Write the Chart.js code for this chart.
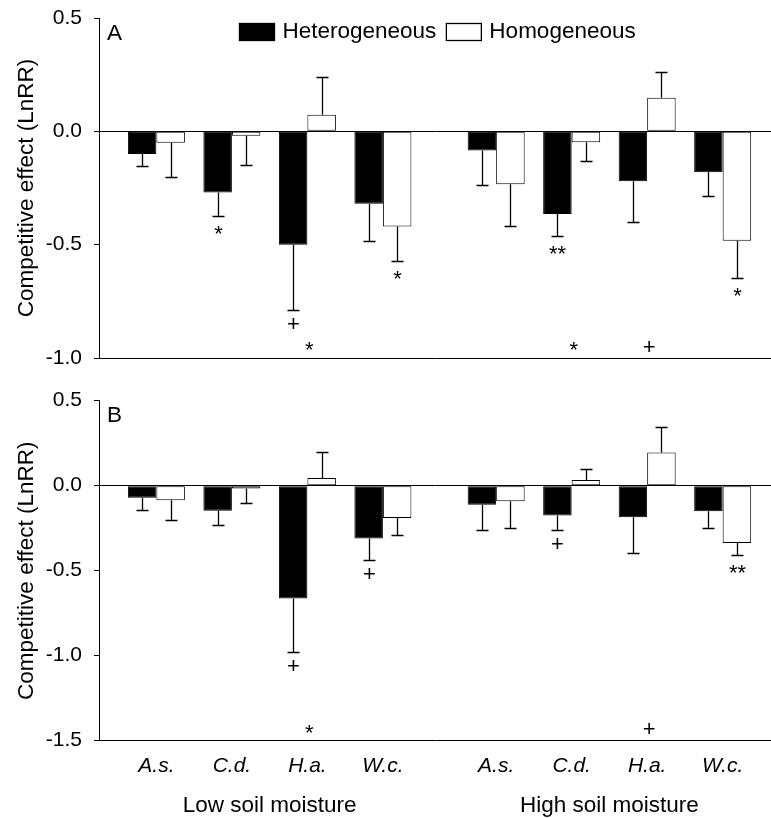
<!DOCTYPE html>
<html>
<head>
<meta charset="utf-8">
<script src="https://cdn.jsdelivr.net/npm/chart.js@4.4.0/dist/chart.umd.min.js"></script>
<style>
  body { margin: 0; background: #fff; }
  canvas { display: block; }
</style>
</head>
<body>
<canvas id="chartA" width="771" height="380"></canvas>
<canvas id="chartB" width="771" height="438"></canvas>
<script>
const species = ['A.s.', 'C.d.', 'H.a.', 'W.c.'];
const moisture = ['Low soil moisture', 'High soil moisture'];
const seriesNames = ['Heterogeneous', 'Homogeneous'];

// panel A: 4 species under low moisture, then 4 under high moisture
const hetA = [-0.10, -0.27, -0.50, -0.32, -0.085, -0.365, -0.22, -0.18];
const hetErrA = [0.053, 0.105, 0.29, 0.163, 0.15, 0.096, 0.18, 0.106];
const homA = [-0.05, -0.02, 0.073, -0.42, -0.233, -0.048, 0.148, -0.483];
const homErrA = [0.15, 0.13, 0.167, 0.151, 0.184, 0.083, 0.113, 0.165];
const hetMarksA = ['', '*', '+', '', '', '**', '', ''];
const homMarksA = ['', '', '', '*', '', '', '', '*'];
const groupMarksA = ['', '', '*', '', '', '*', '+', ''];

// panel B
const hetB = [-0.071, -0.147, -0.663, -0.31, -0.112, -0.176, -0.186, -0.151];
const hetErrB = [0.072, 0.082, 0.315, 0.127, 0.147, 0.083, 0.208, 0.098];
const homB = [-0.086, -0.016, 0.045, -0.19, -0.092, 0.033, 0.196, -0.337];
const homErrB = [0.118, 0.084, 0.151, 0.102, 0.157, 0.065, 0.151, 0.069];
const hetMarksB = ['', '', '+', '+', '', '+', '', ''];
const homMarksB = ['', '', '', '', '', '', '', '**'];
const groupMarksB = ['', '', '*', '', '', '', '+', ''];

const FONT = '"Liberation Sans", Arial, sans-serif';
Chart.defaults.font.family = FONT;
Chart.defaults.color = '#000';

// low moisture groups at 1..4, high moisture groups after a wider gap
function xPos(i) { return i < 4 ? i + 1 : i + 1.5; }

function drawCentered(ctx, text, x, cy) {
  const m = ctx.measureText(text);
  ctx.fillText(text, x, cy + (m.actualBoundingBoxAscent - m.actualBoundingBoxDescent) / 2);
}

const extras = {
  id: 'extras',
  afterDatasetsDraw(chart, args, opts) {
    const ctx = chart.ctx;
    const y = chart.scales.y, x = chart.scales.x;
    const area = chart.chartArea;
    ctx.save();
    ctx.strokeStyle = '#000';
    ctx.fillStyle = '#000';
    ctx.lineWidth = 1.3;
    ctx.textAlign = 'center';
    ctx.font = '22px ' + FONT;

    // error bars pointing away from zero, with marks below
    opts.errors.forEach((errs, d) => {
      const meta = chart.getDatasetMeta(d);
      meta.data.forEach((bar, i) => {
        const v = chart.data.datasets[d].data[i].y;
        const end = v < 0 ? v - errs[i] : v + errs[i];
        const px = Math.round(bar.x) + 0.5;
        const y0 = y.getPixelForValue(v);
        const y1 = Math.round(y.getPixelForValue(end)) + 0.5;
        ctx.beginPath();
        ctx.moveTo(px, y0);
        ctx.lineTo(px, y1);
        ctx.moveTo(px - 6, y1);
        ctx.lineTo(px + 6, y1);
        ctx.stroke();
        const mark = opts.marks[d][i];
        if (mark) drawCentered(ctx, mark, px, y1 + (v < 0 ? 13 : -13));
      });
    });

    opts.groupMarks.forEach((m, i) => {
      if (m) drawCentered(ctx, m, x.getPixelForValue(xPos(i)) + 2, area.bottom - 12);
    });

    ctx.font = '22.5px ' + FONT;
    ctx.textAlign = 'left';
    drawCentered(ctx, opts.letter, area.left + 8, area.top + 14);

    if (opts.legend) {
      let lx = 239.5;
      chart.data.datasets.forEach(ds => {
        ctx.fillStyle = ds.backgroundColor;
        ctx.fillRect(lx, 23.5, 35, 17);
        ctx.strokeRect(lx, 23.5, 35, 17);
        ctx.fillStyle = '#000';
        ctx.textBaseline = 'middle';
        ctx.fillText(ds.label, lx + 43, 32);
        lx += 43 + ctx.measureText(ds.label).width + 10;
      });
      ctx.textBaseline = 'alphabetic';
    }

    if (opts.groups) {
      ctx.textAlign = 'center';
      ctx.textBaseline = 'alphabetic';
      moisture.forEach((label, g) => {
        const mid = (xPos(g * 4) + xPos(g * 4 + 3)) / 2;
        ctx.fillText(label, x.getPixelForValue(mid), area.bottom + 71);
      });
    }
    ctx.restore();
  }
};

function makeChart(id, het, hom, cfg) {
  return new Chart(document.getElementById(id), {
    type: 'bar',
    data: {
      datasets: [
        {
          label: seriesNames[0],
          data: het.map((v, i) => ({ x: xPos(i), y: v })),
          backgroundColor: '#000',
          borderColor: '#000',
          borderWidth: 1,
          borderSkipped: false
        },
        {
          label: seriesNames[1],
          data: hom.map((v, i) => ({ x: xPos(i), y: v })),
          backgroundColor: '#fff',
          borderColor: '#000',
          borderWidth: 1,
          borderSkipped: false
        }
      ]
    },
    options: {
      responsive: false,
      animation: false,
      categoryPercentage: 0.755,
      barPercentage: 1,
      layout: { padding: { top: cfg.top, bottom: 0, left: 0, right: 0 } },
      plugins: {
        legend: { display: false },
        tooltip: { enabled: false },
        extras: {
          errors: cfg.errors,
          marks: cfg.marks,
          groupMarks: cfg.groupMarks,
          letter: cfg.letter,
          legend: cfg.legend,
          groups: cfg.showX
        }
      },
      scales: {
        x: {
          type: 'linear',
          offset: false,
          min: 0.24,
          max: 9.14,
          afterFit: s => { s.height = cfg.xHeight; s.paddingLeft = 0; s.paddingRight = 0; },
          afterBuildTicks: s => { s.ticks = het.map((_, i) => ({ value: xPos(i) })); },
          ticks: {
            display: cfg.showX,
            autoSkip: false,
            maxRotation: 0,
            padding: 13,
            color: '#000',
            font: { size: 21, style: 'italic' },
            callback: (v, i) => species[i % 4]
          },
          grid: { drawOnChartArea: false, drawTicks: false },
          border: { display: true, color: '#000', width: 1 }
        },
        y: {
          min: cfg.min,
          max: 0.5,
          afterFit: s => { s.width = 99; s.paddingTop = 0; s.paddingBottom = 0; },
          ticks: {
            stepSize: 0.5,
            padding: 12,
            color: '#000',
            font: { size: 21 },
            callback: v => v.toFixed(1)
          },
          grid: {
            drawTicks: true,
            tickLength: 5,
            tickColor: '#000',
            lineWidth: 1,
            color: c => (c.tick && c.tick.value === 0 ? '#000' : 'rgba(0,0,0,0)')
          },
          border: { display: true, color: '#000', width: 1 },
          title: {
            display: true,
            text: 'Competitive effect (LnRR)',
            color: '#000',
            font: { size: 22.5 },
            padding: { top: 13, bottom: 0 }
          }
        }
      }
    },
    plugins: [extras]
  });
}

makeChart('chartA', hetA, homA, {
  min: -1, top: 18, xHeight: 22, showX: false, letter: 'A', legend: true,
  errors: [hetErrA, homErrA], marks: [hetMarksA, homMarksA], groupMarks: groupMarksA
});
makeChart('chartB', hetB, homB, {
  min: -1.5, top: 20.7, xHeight: 77.3, showX: true, letter: 'B', legend: false,
  errors: [hetErrB, homErrB], marks: [hetMarksB, homMarksB], groupMarks: groupMarksB
});
</script>
</body>
</html>
